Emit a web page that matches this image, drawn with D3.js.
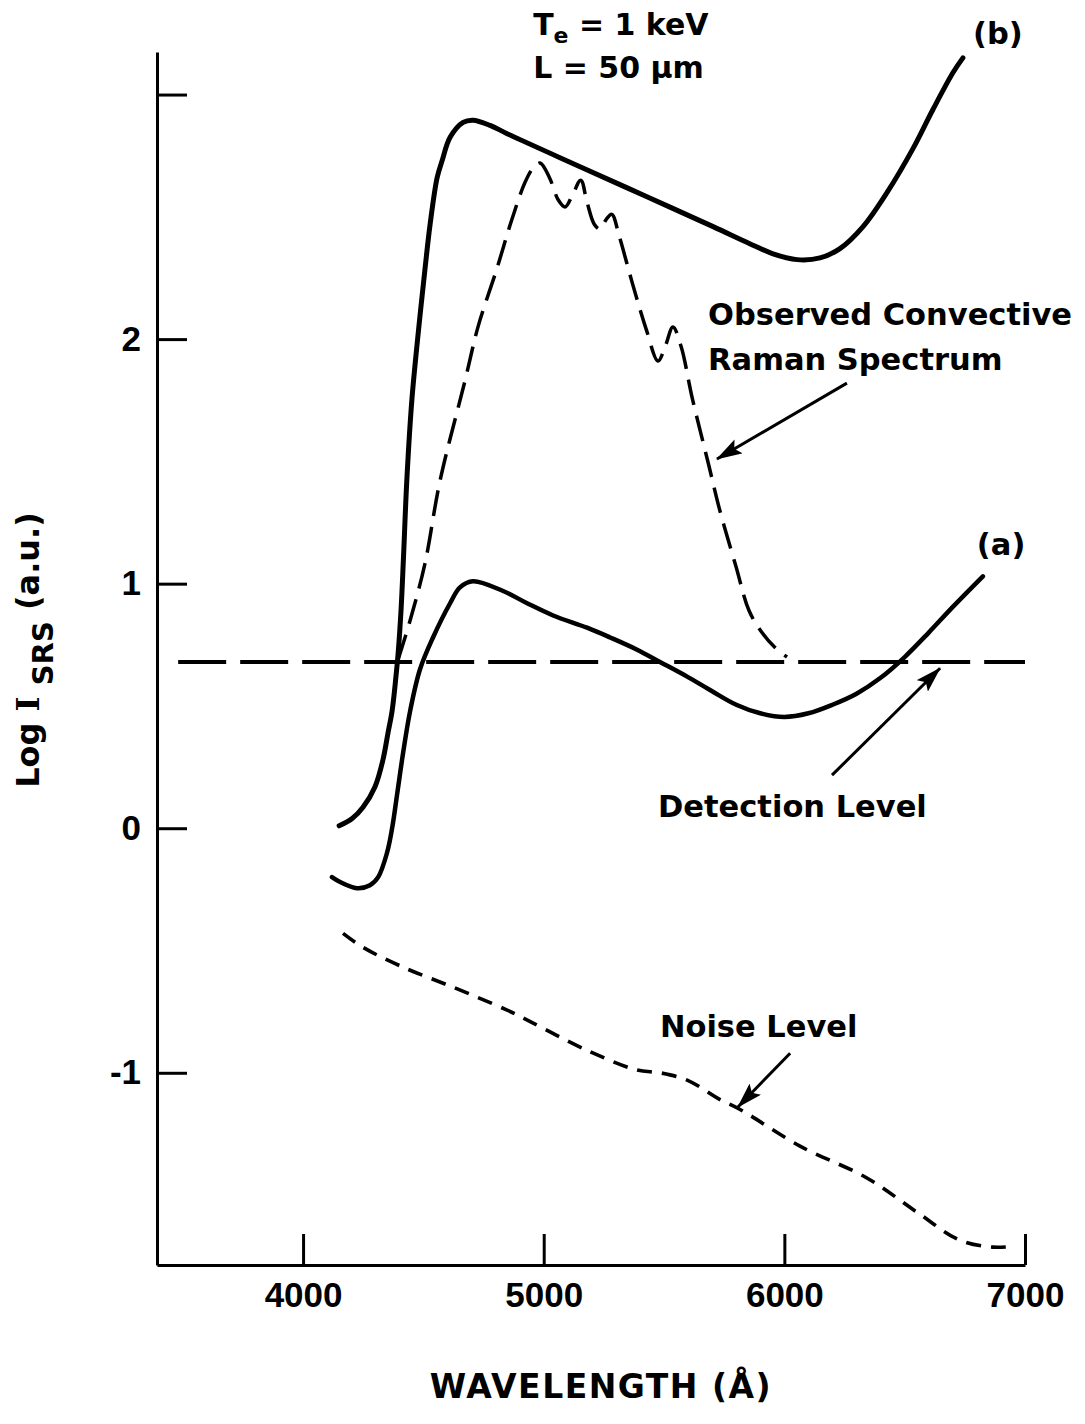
<!DOCTYPE html>
<html>
<head>
<meta charset="utf-8">
<script src="https://cdn.jsdelivr.net/npm/d3@7"></script>
<style>
  html, body { margin: 0; padding: 0; background: #fff; }
  svg { display: block; }
  text { font-family: "DejaVu Sans", sans-serif; font-weight: bold; fill: #000; }
  .tick text { font-family: "Liberation Sans", Arial, sans-serif; font-weight: bold; font-size: 35px; }
</style>
</head>
<body>
<script>
// Wavelength (Å) vs log SRS intensity for Te = 1 keV, L = 50 µm

// x-axis ticks
const xTickValues = [4000, 5000, 6000, 7000];
const xTickLabels = ["4000", "5000", "6000", "7000"];
// y-axis ticks (top tick is unlabeled)
const yTickValues = [-1, 0, 1, 2, 3];
const yTickLabels = ["-1", "0", "1", "2", ""];

// Curve (b): [wavelength, log I]
const curveB = [
  [4150, 0.01], [4204, 0.04], [4249, 0.086], [4299, 0.17], [4332, 0.28],
  [4353, 0.39], [4370, 0.48], [4386, 0.62], [4395, 0.715], [4407, 0.89],
  [4417, 1.10], [4431, 1.42], [4452, 1.75], [4478, 2.02], [4507, 2.29],
  [4528, 2.47], [4557, 2.66], [4578, 2.73], [4611, 2.825], [4665, 2.886],
  [4706, 2.895], [4777, 2.874], [4848, 2.84], [5151, 2.705], [5429, 2.582],
  [5704, 2.46], [5850, 2.393], [5950, 2.35], [6053, 2.325],
  [6148, 2.332], [6231, 2.37], [6327, 2.46], [6427, 2.60], [6535, 2.78],
  [6618, 2.94], [6701, 3.09], [6742, 3.15]
];

// Curve (a)
const curveA = [
  [4120, -0.20], [4154, -0.22], [4224, -0.245], [4278, -0.233], [4312, -0.20],
  [4349, -0.10], [4370, 0.0], [4391, 0.14], [4416, 0.31], [4445, 0.48],
  [4486, 0.65], [4540, 0.78], [4611, 0.92], [4652, 0.985], [4706, 1.01],
  [4831, 0.97], [4931, 0.92], [5039, 0.87], [5180, 0.82], [5276, 0.78],
  [5388, 0.73], [5483, 0.68], [5596, 0.62], [5700, 0.56], [5800, 0.505],
  [5900, 0.47], [6000, 0.455], [6100, 0.47], [6200, 0.505], [6300, 0.55],
  [6400, 0.615], [6500, 0.70], [6600, 0.80], [6700, 0.905], [6825, 1.03]
];

// Observed convective Raman spectrum
const observed = [
  [4395, 0.69], [4445, 0.85], [4506, 1.08], [4569, 1.42], [4673, 1.83],
  [4727, 2.05], [4806, 2.29], [4868, 2.49], [4922, 2.64], [4956, 2.70],
  [4985, 2.72], [5024, 2.66], [5060, 2.57], [5089, 2.54], [5120, 2.59],
  [5154, 2.65], [5180, 2.56], [5210, 2.47], [5234, 2.45], [5260, 2.49],
  [5283, 2.51], [5314, 2.42], [5368, 2.23], [5426, 2.04], [5475, 1.91],
  [5505, 1.97], [5537, 2.05], [5571, 1.97], [5617, 1.76], [5687, 1.48],
  [5729, 1.31], [5799, 1.07], [5853, 0.89], [5907, 0.80], [5960, 0.74],
  [6011, 0.70]
];

// Noise level
const noise = [
  [4166, -0.43], [4249, -0.487], [4415, -0.568], [4623, -0.65], [4848, -0.744],
  [4956, -0.797], [5180, -0.908], [5388, -0.989], [5483, -1.00], [5596, -1.03],
  [5733, -1.11], [5816, -1.15], [6065, -1.30], [6343, -1.43], [6551, -1.57],
  [6730, -1.685], [6867, -1.713], [6950, -1.71]
];

// Detection level (constant) and its wavelength span
const detectionLevel = 0.68;
const detectionSpan = [3481, 7000];

const W = 1085, H = 1424;
const svg = d3.select("body").append("svg").attr("width", W).attr("height", H);

const x = d3.scaleLinear().domain([3393, 7000]).range([157, 1025]);
const y = d3.scaleLinear().domain([-1.786, 3.174]).range([1265, 52]);

// arrowhead
svg.append("defs").append("marker")
  .attr("id", "head")
  .attr("markerUnits", "userSpaceOnUse")
  .attr("viewBox", "0 0 26 16")
  .attr("markerWidth", 26).attr("markerHeight", 16)
  .attr("refX", 25).attr("refY", 8)
  .attr("orient", "auto")
  .append("path").attr("d", "M0,0 L26,8 L0,16 L5,8 Z").attr("fill", "#000");

// axes
const xAxis = d3.axisBottom(x)
  .tickValues(xTickValues)
  .tickFormat((d, i) => xTickLabels[i])
  .tickSizeInner(-31).tickSizeOuter(0).tickPadding(17);
const yAxis = d3.axisLeft(y)
  .tickValues(yTickValues)
  .tickFormat((d, i) => yTickLabels[i])
  .tickSizeInner(-30).tickSizeOuter(0).tickPadding(16);

const gx = svg.append("g").attr("transform", `translate(0,${y.range()[0]})`).call(xAxis);
const gy = svg.append("g").attr("transform", `translate(${x.range()[0]},0)`).call(yAxis);
[gx, gy].forEach(g => {
  g.select(".domain").attr("stroke", "#000").attr("stroke-width", 3);
  g.selectAll(".tick line").attr("stroke", "#000").attr("stroke-width", 3);
  g.selectAll(".tick text").attr("fill", "#000");
});

const line = d3.line()
  .x(d => x(d[0]))
  .y(d => y(d[1]))
  .curve(d3.curveCatmullRom.alpha(0.5));

const series = [
  { data: curveB, width: 5, dash: null },
  { data: curveA, width: 4.5, dash: null },
  { data: observed, width: 3.5, dash: "26,11" },
  { data: noise, width: 3.6, dash: "15,10" }
];
series.forEach(s => {
  svg.append("path")
    .datum(s.data)
    .attr("d", line)
    .attr("fill", "none")
    .attr("stroke", "#000")
    .attr("stroke-width", s.width)
    .attr("stroke-linejoin", "round")
    .attr("stroke-linecap", s.dash ? "butt" : "round")
    .attr("stroke-dasharray", s.dash);
});

// detection level
svg.append("line")
  .attr("x1", x(detectionSpan[0])).attr("x2", x(detectionSpan[1]))
  .attr("y1", y(detectionLevel)).attr("y2", y(detectionLevel))
  .attr("stroke", "#000").attr("stroke-width", 4)
  .attr("stroke-dasharray", "48,14");

// pointer arrows (tail -> tip, in data units)
const arrows = [
  [[6260, 1.82], [5720, 1.51]],
  [[6198, 0.217], [6647, 0.654]],
  [[6024, -0.92], [5807, -1.14]]
];
arrows.forEach(([a, b]) => {
  svg.append("line")
    .attr("x1", x(a[0])).attr("y1", y(a[1]))
    .attr("x2", x(b[0])).attr("y2", y(b[1]))
    .attr("stroke", "#000").attr("stroke-width", 3)
    .attr("marker-end", "url(#head)");
});

// annotations
const fs = 30.5;
const label = (txt, lx, ly) => svg.append("text")
  .attr("x", x(lx)).attr("y", y(ly))
  .attr("font-size", fs).text(txt);

label("Observed Convective", 5683, 2.056);
label("Raman Spectrum", 5683, 1.872);
label("(b)", 6784, 3.205);
label("(a)", 6800, 1.116);
label("Detection Level", 5475, 0.045);
label("Noise Level", 5483, -0.854);

// parameters
const t1 = svg.append("text").attr("x", x(4956)).attr("y", y(3.242)).attr("font-size", 30);
t1.append("tspan").text("T");
t1.append("tspan").attr("font-size", 22).attr("dy", 8).text("e");
t1.append("tspan").attr("dy", -8).text(" = 1 keV");
svg.append("text").attr("x", x(4956)).attr("y", y(3.066)).attr("font-size", 30)
  .text("L = 50 \u03BCm");

// axis titles
svg.append("text")
  .attr("x", (x.range()[0] + x.range()[1]) / 2 + 10)
  .attr("y", 1398)
  .attr("text-anchor", "middle")
  .attr("font-size", 33)
  .attr("letter-spacing", "1.5px")
  .text("WAVELENGTH (\u00C5)");

const yl = svg.append("text")
  .attr("transform", "translate(39,650) rotate(-90)")
  .attr("text-anchor", "middle")
  .attr("font-size", 32);
yl.append("tspan").text("Log ");
yl.append("tspan").attr("font-family", "DejaVu Serif").text("I");
yl.append("tspan").text(" ");
yl.append("tspan").attr("font-size", 29).attr("dy", 14).text("SRS");
yl.append("tspan").attr("dy", -14).text(" (a.u.)");
</script>
</body>
</html>
